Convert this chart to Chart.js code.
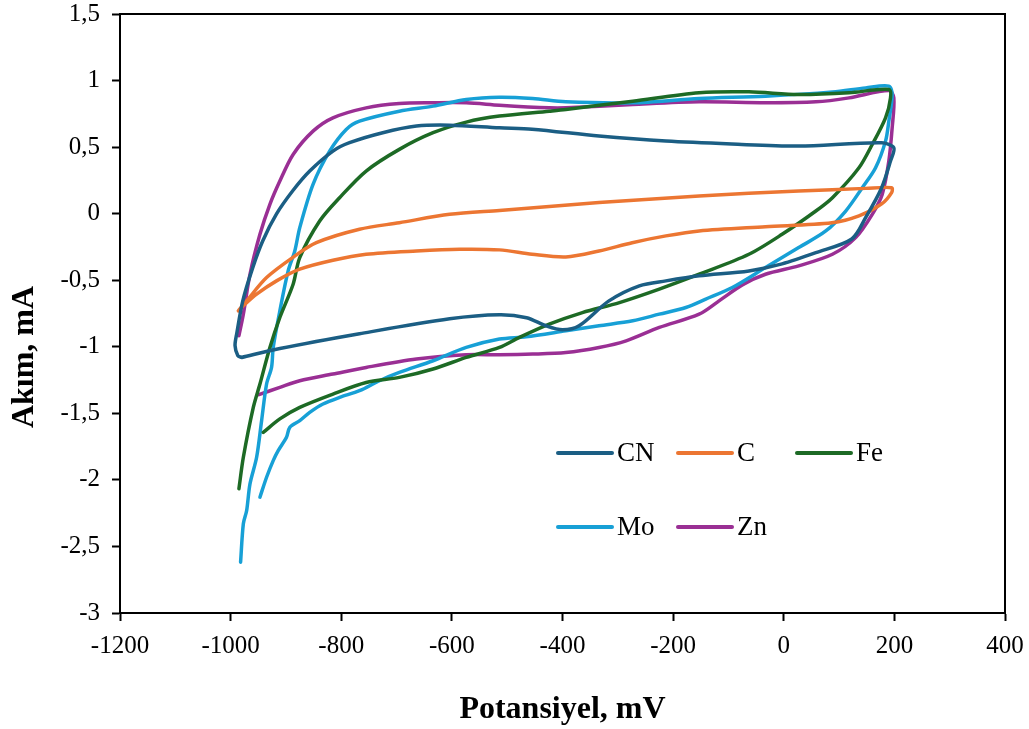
<!DOCTYPE html>
<html>
<head>
<meta charset="utf-8">
<script src="https://cdn.jsdelivr.net/npm/chart.js@4/dist/chart.umd.min.js"></script>
<style>
  html, body { margin: 0; padding: 0; background: #fff; }
  #wrap { width: 1029px; height: 729px; }
</style>
</head>
<body>
<div id="wrap"><canvas id="cvChart" width="1029" height="729"></canvas></div>
<script>
// ========== DATOS ==========
// Potansiyel (mV) / Akım (mA)
const cnX = [-980, -911, -767, -604, -514, -465, -430, -400, -370, -316, -261, -213, -153, -63, -3, 58, 123, 148, 177, 193, 199,
             177, 27, -94, -213, -334, -455, -514, -604, -664, -725, -785, -815, -857, -888, -917, -942, -960, -978, -989, -992, -987, -980];
const cnY = [-1.08, -1.013, -0.902, -0.79, -0.76, -0.782, -0.842, -0.872, -0.842, -0.655, -0.542, -0.505, -0.467, -0.43, -0.377, -0.293, -0.19, -0.03, 0.195, 0.395, 0.495,
             0.532, 0.508, 0.523, 0.545, 0.583, 0.635, 0.645, 0.665, 0.658, 0.608, 0.533, 0.47, 0.32, 0.17, -0.002, -0.205, -0.405, -0.655, -0.902, -0.992, -1.067, -1.08];

const cX = [-986, -971, -935, -888, -845, -767, -695, -604, -514, -424, -334, -153, 27, 148, 195,
            195, 177, 136, 87, -33, -153, -213, -274, -334, -394, -455, -514, -586, -664, -755, -815, -875, -917, -953, -977, -986];
const cY = [-0.73, -0.655, -0.48, -0.33, -0.218, -0.117, -0.068, -0.005, 0.024, 0.053, 0.083, 0.133, 0.17, 0.19, 0.195,
            0.158, 0.073, -0.017, -0.068, -0.098, -0.13, -0.167, -0.218, -0.28, -0.325, -0.305, -0.272, -0.267, -0.28, -0.305, -0.35, -0.417, -0.505, -0.605, -0.692, -0.73];

const feX = [-985, -977, -959, -947, -929, -911, -887, -875, -839, -803, -755, -695, -634, -574, -514, -424, -394, -273, -153, -63, 27, 118, 190,
             193, 184, 160, 136, 88, 58, -3, -63, -153, -225, -297, -364, -424, -478, -514, -574, -634, -695, -755, -815, -875, -911, -941];
const feY = [-2.067, -1.83, -1.455, -1.28, -1.005, -0.78, -0.53, -0.33, -0.055, 0.12, 0.32, 0.483, 0.608, 0.688, 0.733, 0.77, 0.783, 0.845, 0.908, 0.915, 0.895, 0.908, 0.933,
             0.87, 0.72, 0.52, 0.345, 0.12, 0.02, -0.155, -0.305, -0.455, -0.567, -0.668, -0.743, -0.83, -0.93, -1.005, -1.08, -1.167, -1.23, -1.268, -1.355, -1.455, -1.542, -1.643];

const moX = [-982, -977, -971, -965, -953, -944, -935, -926, -923, -911, -896, -884, -875, -851, -821, -791, -767, -695, -634, -574, -514, -454, -394, -273, -153, -33, 88, 148, 190,
             196, 190, 184, 166, 142, 112, 76, 27, -33, -93, -141, -177, -225, -273, -334, -394, -466, -514, -574, -634, -695, -731, -767, -803, -833, -857, -875, -893, -899, -914, -923, -935, -947];
const moY = [-2.618, -2.33, -2.23, -2.03, -1.83, -1.555, -1.28, -1.155, -1.005, -0.73, -0.43, -0.28, -0.105, 0.22, 0.47, 0.633, 0.695, 0.77, 0.808, 0.858, 0.875, 0.865, 0.84, 0.833, 0.865, 0.883, 0.915, 0.945, 0.958,
             0.895, 0.695, 0.545, 0.345, 0.195, 0.02, -0.13, -0.255, -0.405, -0.555, -0.642, -0.705, -0.755, -0.805, -0.842, -0.88, -0.925, -0.942, -1.005, -1.105, -1.193, -1.255, -1.33, -1.38, -1.43, -1.493, -1.555, -1.605, -1.68, -1.78, -1.855, -1.98, -2.13];

const znX = [-985, -977, -965, -947, -929, -911, -887, -851, -815, -755, -695, -634, -574, -514, -424, -394, -273, -153, -33, 58, 118, 190,
             199, 196, 190, 178, 160, 130, 88, 27, -33, -75, -117, -153, -225, -285, -334, -394, -454, -514, -574, -664, -755, -815, -875, -911, -949];
const znY = [-0.917, -0.755, -0.455, -0.155, 0.07, 0.245, 0.445, 0.62, 0.72, 0.795, 0.828, 0.833, 0.833, 0.815, 0.795, 0.795, 0.82, 0.84, 0.833, 0.84, 0.87, 0.925,
             0.87, 0.645, 0.395, 0.145, -0.005, -0.18, -0.305, -0.392, -0.455, -0.535, -0.655, -0.755, -0.855, -0.955, -1.005, -1.043, -1.055, -1.06, -1.06, -1.092, -1.155, -1.205, -1.255, -1.305, -1.36];

const seriesNames = ['CN', 'C', 'Fe', 'Mo', 'Zn'];
const seriesColors = ['#1b5e84', '#ec7632', '#1d6a25', '#17a0d6', '#9a2f94'];
const yTitle = 'Akım, mA';
const xTitle = 'Potansiyel, mV';

// ========== UTILIDADES ==========
function toPoints(xs, ys) {
    return xs.map((x, i) => ({ x: x, y: ys[i] }));
}

const FONT = "'Liberation Serif', 'Times New Roman', serif";

// Quitar el relleno automático que Chart.js reserva para las etiquetas extremas
function sinRelleno(scale) {
    scale.paddingTop = 0;
    scale.paddingBottom = 0;
    scale.paddingLeft = 0;
    scale.paddingRight = 0;
}

// Marco superior / derecho del área de gráfico
const framePlugin = {
    id: 'frame',
    afterDraw(chart) {
        const a = chart.chartArea;
        const ctx = chart.ctx;
        ctx.save();
        ctx.strokeStyle = '#000';
        ctx.lineWidth = 2;
        ctx.strokeRect(a.left, a.top, a.right - a.left, a.bottom - a.top);
        ctx.restore();
    }
};

// Título del eje Y (desplazado hacia abajo como en el original)
const yTitlePlugin = {
    id: 'yTitle',
    afterDraw(chart) {
        const ctx = chart.ctx;
        ctx.save();
        ctx.translate(33, 357);
        ctx.rotate(-Math.PI / 2);
        ctx.font = 'bold 32px ' + FONT;
        ctx.fillStyle = '#000';
        ctx.textAlign = 'center';
        ctx.textBaseline = 'alphabetic';
        ctx.fillText(yTitle, 0, 0);
        ctx.restore();
    }
};

// Leyenda dentro del gráfico (3 columnas)
const legendPlugin = {
    id: 'insideLegend',
    afterDraw(chart) {
        const ctx = chart.ctx;
        const cols = [558, 678, 797];
        const rows = [453, 527];
        ctx.save();
        ctx.font = '27px ' + FONT;
        ctx.textBaseline = 'middle';
        ctx.fillStyle = '#000';
        chart.data.datasets.forEach((ds, i) => {
            const x = cols[i % 3];
            const y = rows[Math.floor(i / 3)];
            ctx.strokeStyle = ds.borderColor;
            ctx.lineWidth = 4;
            ctx.lineCap = 'round';
            ctx.beginPath();
            ctx.moveTo(x, y);
            ctx.lineTo(x + 54, y);
            ctx.stroke();
            ctx.fillText(ds.label, x + 59, y + 1);
        });
        ctx.restore();
    }
};

// ========== GRÁFICO ==========
const datasets = [
    toPoints(cnX, cnY),
    toPoints(cX, cY),
    toPoints(feX, feY),
    toPoints(moX, moY),
    toPoints(znX, znY)
].map((pts, i) => ({
    label: seriesNames[i],
    data: pts,
    borderColor: seriesColors[i],
    backgroundColor: seriesColors[i],
    borderWidth: 3.5,
    borderCapStyle: 'round',
    borderJoinStyle: 'round',
    showLine: true,
    pointRadius: 0,
    tension: 0.3,
    fill: false
}));

const ctxChart = document.getElementById('cvChart').getContext('2d');
new Chart(ctxChart, {
    type: 'scatter',
    data: { datasets: datasets },
    options: {
        responsive: false,
        animation: false,
        layout: { padding: { top: 14, right: 24, left: 0, bottom: 0 } },
        plugins: {
            legend: { display: false },
            tooltip: { enabled: false }
        },
        scales: {
            x: {
                type: 'linear',
                min: -1200,
                max: 400,
                afterFit: (scale) => { scale.height = 116; sinRelleno(scale); },
                border: { display: true, color: '#000', width: 2 },
                grid: { display: true, drawOnChartArea: false, drawTicks: true, tickLength: 8, tickColor: '#000', tickWidth: 2 },
                ticks: {
                    stepSize: 200,
                    padding: 10,
                    color: '#000',
                    font: { family: FONT, size: 25 },
                    maxRotation: 0,
                    callback: (v) => String(v)
                },
                title: {
                    display: true,
                    text: xTitle,
                    color: '#000',
                    font: { family: FONT, size: 32, weight: 'bold' },
                    padding: { top: 0, bottom: 0 }
                }
            },
            y: {
                type: 'linear',
                min: -3,
                max: 1.5,
                afterFit: (scale) => { scale.width = 120; sinRelleno(scale); },
                border: { display: true, color: '#000', width: 2 },
                grid: { display: true, drawOnChartArea: false, drawTicks: true, tickLength: 8, tickColor: '#000', tickWidth: 2 },
                ticks: {
                    stepSize: 0.5,
                    padding: 12,
                    color: '#000',
                    font: { family: FONT, size: 25 },
                    callback: (v) => String(Math.round(v * 10) / 10).replace('.', ',')
                },
                title: { display: false }
            }
        }
    },
    plugins: [framePlugin, yTitlePlugin, legendPlugin]
});
</script>
</body>
</html>
